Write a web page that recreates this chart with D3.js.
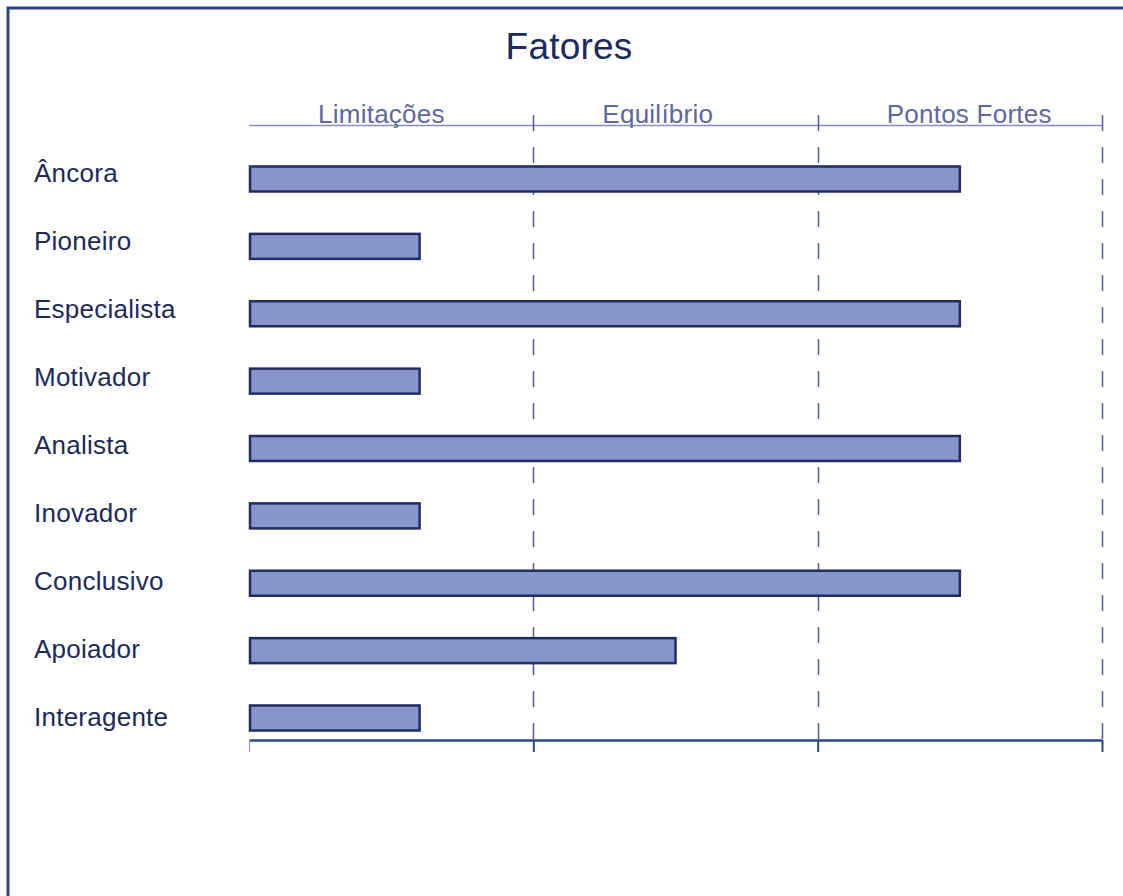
<!DOCTYPE html>
<html>
<head>
<meta charset="utf-8">
<script src="https://cdn.jsdelivr.net/npm/d3@7"></script>
<style>
  body { margin: 0; background: #fff; }
  svg { display: block; font-family: "Liberation Sans", Arial, sans-serif; }
</style>
</head>
<body>
<div id="chart"></div>
<script>
const categories = ['Âncora', 'Pioneiro', 'Especialista', 'Motivador', 'Analista', 'Inovador', 'Conclusivo', 'Apoiador', 'Interagente'];
const values = [2.5, 0.6, 2.5, 0.6, 2.5, 0.6, 2.5, 1.5, 0.6];
const columns = ['Limitações', 'Equilíbrio', 'Pontos Fortes'];
const title = 'Fatores';

const width = 1123;
const height = 896;

const svg = d3.select('#chart')
  .append('svg')
  .attr('width', width)
  .attr('height', height);

// frame (right and bottom edges run off the page)
svg.append('rect')
  .attr('x', 8)
  .attr('y', 8)
  .attr('width', 1140)
  .attr('height', 920)
  .attr('fill', 'none')
  .attr('stroke', '#2e4584')
  .attr('stroke-width', 3);

const x = d3.scaleLinear().domain([0, columns.length]).range([249, 1102]);
const y = d3.scalePoint().domain(categories).range([179, 718]);
const yLabel = d3.scalePoint().domain(categories).range([182, 726]);
const barH = 25;
const axisY = 740;

svg.append('text')
  .attr('x', 569)
  .attr('y', 59)
  .attr('text-anchor', 'middle')
  .attr('font-size', 37)
  .attr('letter-spacing', 0.2)
  .attr('fill', '#1a2a5e')
  .text(title);

// column headers
svg.append('line')
  .attr('x1', x(0)).attr('x2', x(columns.length))
  .attr('y1', 125.5).attr('y2', 125.5)
  .attr('stroke', '#858dbd')
  .attr('stroke-width', 1.5);

svg.selectAll('.col-label')
  .data(columns)
  .enter()
  .append('text')
  .attr('class', 'col-label')
  .attr('x', (d, i) => x(i) + 69)
  .attr('y', 123)
  .attr('font-size', 26)
  .attr('letter-spacing', 0.25)
  .attr('fill', '#5d67a2')
  .text((d) => d);

// dashed separators
svg.selectAll('.sep')
  .data(d3.range(1, columns.length + 1))
  .enter()
  .append('line')
  .attr('class', 'sep')
  .attr('x1', (d) => Math.round(x(d)) + 0.5)
  .attr('x2', (d) => Math.round(x(d)) + 0.5)
  .attr('y1', 115)
  .attr('y2', axisY)
  .attr('stroke', '#4b5c9c')
  .attr('stroke-width', 1.5)
  .attr('stroke-dasharray', '16,16');

// bottom axis
const xAxis = d3.axisBottom(x)
  .tickValues(d3.range(0, columns.length + 1))
  .tickSize(12)
  .tickSizeOuter(0)
  .tickFormat('');

const axisG = svg.append('g')
  .attr('transform', `translate(0,${axisY})`)
  .call(xAxis);
axisG.select('.domain').attr('stroke', '#264c84').attr('stroke-width', 2.5);
axisG.selectAll('.tick line')
  .attr('stroke', (d) => (d === 0 ? '#8a9ac0' : '#264c84'))
  .attr('stroke-width', (d) => (d === 0 ? 1.2 : 2));

// bars
svg.selectAll('.bar')
  .data(categories)
  .enter()
  .append('rect')
  .attr('class', 'bar')
  .attr('x', x(0) + 1)
  .attr('y', (d) => y(d) - barH / 2)
  .attr('width', (d, i) => x(values[i]) - x(0) - 1)
  .attr('height', barH)
  .attr('fill', '#8696cd')
  .attr('stroke', '#1f2d60')
  .attr('stroke-width', 2.5);

// category labels
svg.selectAll('.cat-label')
  .data(categories)
  .enter()
  .append('text')
  .attr('class', 'cat-label')
  .attr('x', 34)
  .attr('y', (d) => yLabel(d))
  .attr('font-size', 26)
  .attr('letter-spacing', 0.25)
  .attr('fill', '#1a2a5e')
  .text((d) => d);
</script>
</body>
</html>
